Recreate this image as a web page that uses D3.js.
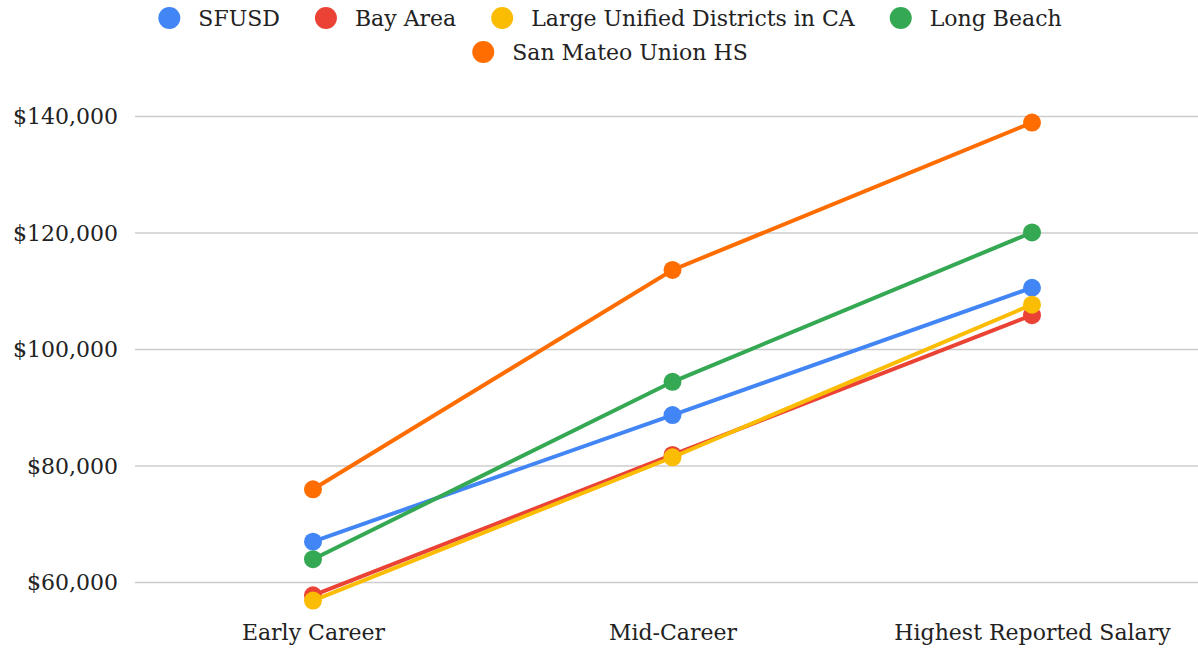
<!DOCTYPE html>
<html>
<head>
<meta charset="utf-8">
<script src="https://cdn.jsdelivr.net/npm/d3@7"></script>
<style>
  body { margin: 0; background: #fff; }
  text { font-family: "DejaVu Serif", Georgia, serif; fill: #222; }
</style>
</head>
<body>
<div id="chart"></div>
<script>
var svgWidth = 1198;
var svgHeight = 650;

// data
var stages = ["Early Career", "Mid-Career", "Highest Reported Salary"];
var seriesNames = ["SFUSD", "Bay Area", "Large Unified Districts in CA", "Long Beach", "San Mateo Union HS"];
var seriesColors = ["#4285F4", "#EA4335", "#FBBC04", "#34A853", "#FF6D01"];
var sfusd = [67000, 88750, 110600];
var bayArea = [57800, 81900, 105900];
var largeUnified = [56900, 81500, 107700];
var longBeach = [64000, 94450, 120100];
var sanMateo = [76000, 113650, 138950];
var yTicks = [60000, 80000, 100000, 120000, 140000];

var allSeries = [sfusd, bayArea, largeUnified, longBeach, sanMateo];

var svg = d3.select("#chart")
  .append("svg")
  .attr("width", svgWidth)
  .attr("height", svgHeight);

var xScale = d3.scalePoint()
  .domain(stages)
  .range([313, 1032]);

var yScale = d3.scaleLinear()
  .domain([60000, 140000])
  .range([582.5, 116.5]);

// gridlines
svg.append("g")
  .selectAll("line")
  .data(yTicks)
  .enter()
  .append("line")
  .attr("x1", 135)
  .attr("x2", svgWidth)
  .attr("y1", d => yScale(d))
  .attr("y2", d => yScale(d))
  .attr("stroke", "#ccc")
  .attr("stroke-width", 1.5);

// y axis labels
var leftAxis = d3.axisLeft(yScale)
  .tickValues(yTicks)
  .tickSize(0)
  .tickPadding(0)
  .tickFormat(d => "$" + d3.format(",")(d));

var yAxis = svg.append("g")
  .attr("transform", "translate(118,0)")
  .call(leftAxis);
yAxis.select(".domain").remove();
yAxis.selectAll("text")
  .attr("font-size", "22px")
  .attr("font-family", "DejaVu Serif")
  .attr("fill", "#222");

// x axis labels
var bottomAxis = d3.axisBottom(xScale)
  .tickSize(0)
  .tickPadding(0);

var xAxis = svg.append("g")
  .attr("transform", "translate(0,624)")
  .call(bottomAxis);
xAxis.select(".domain").remove();
xAxis.selectAll("text")
  .attr("font-size", "22px")
  .attr("font-family", "DejaVu Serif")
  .attr("fill", "#222");

// lines and dots
var line = d3.line()
  .x((d, i) => xScale(stages[i]))
  .y(d => yScale(d));

allSeries.forEach(function(values, s) {
  svg.append("path")
    .datum(values)
    .attr("d", line)
    .attr("fill", "none")
    .attr("stroke", seriesColors[s])
    .attr("stroke-width", 4);

  svg.append("g")
    .selectAll("circle")
    .data(values)
    .enter()
    .append("circle")
    .attr("cx", (d, i) => xScale(stages[i]))
    .attr("cy", d => yScale(d))
    .attr("r", 9)
    .attr("fill", seriesColors[s]);
});

// legend, two centred rows
var legendRows = [[0, 1, 2, 3], [4]];
var legendY = [18, 52];
var centreX = 610;

legendRows.forEach(function(row, r) {
  var g = svg.append("g");
  var x = 0;
  row.forEach(function(idx, k) {
    g.append("circle")
      .attr("cx", x + 11)
      .attr("cy", legendY[r])
      .attr("r", 11)
      .attr("fill", seriesColors[idx]);
    var t = g.append("text")
      .attr("x", x + 40)
      .attr("y", legendY[r])
      .attr("dy", "0.35em")
      .attr("font-size", "22px")
      .text(seriesNames[idx]);
    x += 40 + t.node().getComputedTextLength() + 35;
  });
  var total = x - 35;
  g.attr("transform", `translate(${centreX - total / 2},0)`);
});
</script>
</body>
</html>
